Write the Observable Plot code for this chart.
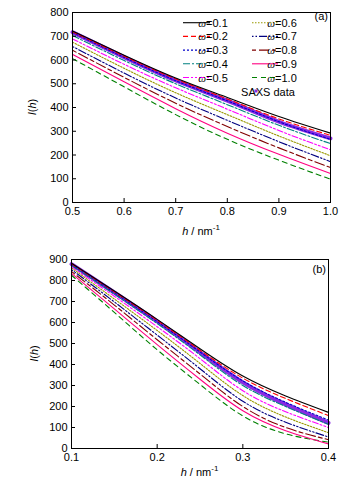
<!DOCTYPE html>
<html><head><meta charset="utf-8">
<script src="https://cdn.jsdelivr.net/npm/d3@7"></script>
<script src="https://cdn.jsdelivr.net/npm/@observablehq/plot@0.6"></script>
<style>
html,body{margin:0;padding:0;background:#fff}
#c{width:359px;height:483px;position:relative;font-family:"Liberation Sans",Arial,sans-serif}
#c svg{display:block}
</style></head><body><div id="c"></div>
<script>
// ---- series definitions ----
const seriesNames = ["ω=0.1","ω=0.2","ω=0.3","ω=0.4","ω=0.5","ω=0.6","ω=0.7","ω=0.8","ω=0.9","ω=1.0"];
const seriesColors = ["#000000","#ff0000","#0000cc","#008080","#ff00ff","#999900","#000080","#800000","#ff0080","#008000"];
const seriesDash = [null,"5,3","2,2","7,2,2,2","6,2,2,2,2,2","1.5,1.5","1.5,2,1.5,2,8,2","4,3,10,3",null,"5,4"];
const saxsColor = "#8a2be2";

// ---- panel (a) ----
const hA = [0.5, 0.6, 0.7, 0.8, 0.9, 1.0];
const a_w01 = [722, 620, 524, 442, 362, 292];
const a_w02 = [719, 616, 520, 436, 352, 283];
const a_w03 = [716, 611, 513, 428, 340, 266];
const a_w04 = [703, 598, 500, 412, 325, 248];
const a_w05 = [689, 582, 483, 393, 303, 222];
const a_w06 = [675, 565, 462, 370, 280, 197];
const a_w07 = [657, 545, 440, 346, 256, 172];
const a_w08 = [641, 527, 418, 320, 230, 147];
const a_w09 = [624, 508, 395, 292, 203, 122];
const a_w10 = [606, 487, 370, 266, 178, 98];
const a_saxs = [717, 612, 514, 429, 340, 270];
const xTicksA = [0.5, 0.6, 0.7, 0.8, 0.9, 1.0];
const yTicksA = [0, 100, 200, 300, 400, 500, 600, 700, 800];

// ---- panel (b) ----
const hB = [0.1, 0.15, 0.2, 0.25, 0.3, 0.35, 0.4];
const b_w01 = [882, 750, 615, 475, 345, 250, 172];
const b_w02 = [880, 746, 610, 468, 335, 238, 157];
const b_w03 = [877, 742, 604, 460, 322, 220, 135];
const b_w04 = [872, 735, 595, 446, 300, 200, 115];
const b_w05 = [866, 725, 580, 428, 275, 175, 100];
const b_w06 = [860, 712, 562, 405, 252, 150, 75];
const b_w07 = [852, 698, 540, 380, 225, 125, 55];
const b_w08 = [843, 683, 518, 355, 200, 100, 42];
const b_w09 = [834, 665, 495, 330, 180, 85, 22];
const b_w10 = [825, 648, 470, 305, 155, 70, 30];
const b_saxs = [878, 743, 605, 458, 315, 210, 122];
const xTicksB = [0.1, 0.2, 0.3, 0.4];
const yTicksB = [0, 100, 200, 300, 400, 500, 600, 700, 800, 900];

const FONT = "Liberation Sans, Arial, sans-serif";

function tidy(hs, arrs, saxs){
  const lines = [];
  arrs.forEach((arr, k) => arr.forEach((v, i) => lines.push({h: hs[i], I: v, s: k})));
  const sx = saxs.map((v, i) => ({h: hs[i], I: v}));
  return {lines, sx};
}

function panel({hs, arrs, saxs, xDomain, yDomain, xTicks, yTicks, width, height, mt, mr, mb, ml}){
  const {lines, sx} = tidy(hs, arrs, saxs);
  const innerW = width - ml - mr, innerH = height - mt - mb;
  const marks = [];
  marks.push(Plot.line(sx, {x: "h", y: "I", stroke: saxsColor, strokeWidth: 4, curve: "natural"}));
  for (let k = arrs.length - 1; k >= 0; k--) {
    marks.push(Plot.line(lines.filter(d => d.s === k), {
      x: "h", y: "I", stroke: seriesColors[k], strokeWidth: 1.1,
      strokeDasharray: seriesDash[k] || undefined, curve: "natural"
    }));
  }
  marks.push(Plot.tickX(xTicks, {x: d => d, insetTop: innerH - 4, stroke: "#000"}));
  marks.push(Plot.tickY(yTicks, {y: d => d, insetRight: innerW - 4, stroke: "#000"}));
  marks.push(Plot.axisX(xTicks, {tickSize: 0, tickPadding: 5, tickFormat: d3.format(".1f"), label: null, fontSize: 11}));
  marks.push(Plot.axisY(yTicks, {tickSize: 0, tickPadding: 4, label: null, fontSize: 11}));
  marks.push(Plot.frame({stroke: "#000", strokeWidth: 1}));
  return Plot.plot({
    width, height, marginTop: mt, marginRight: mr, marginBottom: mb, marginLeft: ml,
    x: {domain: xDomain}, y: {domain: yDomain},
    style: {fontFamily: FONT, fontSize: "11px", color: "#000", background: "#fff", overflow: "visible"},
    marks
  });
}

function addLabels(svg, {ml, mt, innerW, innerH, xlabY, ylabX, tag, tagX, tagY}){
  const s = d3.select(svg);
  // x label
  const xl = s.append("text").attr("x", ml + innerW/2).attr("y", xlabY)
    .attr("text-anchor", "middle").attr("font-family", FONT).attr("font-size", 11).attr("fill", "#000");
  xl.append("tspan").attr("font-style", "italic").text("h");
  xl.append("tspan").text(" / nm");
  xl.append("tspan").attr("font-size", 8).attr("dy", -5).text("-1");
  // y label
  const cy = mt + innerH/2;
  const yl = s.append("text").attr("transform", `translate(${ylabX},${cy}) rotate(-90)`)
    .attr("text-anchor", "middle").attr("font-family", FONT).attr("font-size", 11).attr("fill", "#000");
  yl.append("tspan").attr("font-style", "italic").text("I");
  yl.append("tspan").text("(");
  yl.append("tspan").attr("font-style", "italic").text("h");
  yl.append("tspan").text(")");
  // tag
  s.append("text").attr("x", tagX).attr("y", tagY).attr("text-anchor", "end")
    .attr("font-family", FONT).attr("font-size", 11).attr("fill", "#000").text(tag);
}

const root = document.getElementById("c");

// top panel
const A = {hs: hA, arrs: [a_w01,a_w02,a_w03,a_w04,a_w05,a_w06,a_w07,a_w08,a_w09,a_w10], saxs: a_saxs,
  xDomain: [0.5, 1.0], yDomain: [0, 800], xTicks: xTicksA, yTicks: yTicksA,
  width: 359, height: 245, mt: 12, mr: 29, mb: 43, ml: 72};
const svgA = panel(A);
root.appendChild(svgA);
addLabels(svgA, {ml: A.ml, mt: A.mt, innerW: 359-72-29, innerH: 245-12-43, xlabY: 235, ylabX: 36, tag: "(a)", tagX: 328, tagY: 20});

// legend for panel (a)
(function(){
  const s = d3.select(svgA).append("g");
  const rowY = [22.7, 36.4, 50.1, 63.8, 77.5];
  seriesNames.forEach((name, k) => {
    const col = k < 5 ? 0 : 1, row = k % 5;
    const x0 = col === 0 ? 183 : 252, x1 = col === 0 ? 210 : 278, tx = col === 0 ? 213 : 282;
    const y = rowY[row];
    s.append("line").attr("x1", x0).attr("x2", x1).attr("y1", y).attr("y2", y)
      .attr("stroke", seriesColors[k]).attr("stroke-width", 1.1)
      .attr("stroke-dasharray", seriesDash[k] || null);
    const t = s.append("text").attr("x", tx).attr("y", y + 4).attr("font-family", FONT)
      .attr("font-size", 11).attr("fill", "#000");
    t.append("tspan").attr("font-style", "italic").attr("font-family", "Liberation Serif, serif").text(name.slice(0,1));
    t.append("tspan").text(name.slice(1));
  });
  s.append("rect").attr("x", 254.5).attr("y", 89.5).attr("width", 3).attr("height", 3).attr("fill", saxsColor);
  s.append("text").attr("x", 268).attr("y", 95.5).attr("font-family", FONT).attr("font-size", 11).attr("fill", "#000").text("SAXS data");
})();

// bottom panel
const B = {hs: hB, arrs: [b_w01,b_w02,b_w03,b_w04,b_w05,b_w06,b_w07,b_w08,b_w09,b_w10], saxs: b_saxs,
  xDomain: [0.1, 0.4], yDomain: [0, 900], xTicks: xTicksB, yTicks: yTicksB,
  width: 359, height: 238, mt: 14, mr: 31, mb: 35, ml: 71};
const svgB = panel(B);
root.appendChild(svgB);
addLabels(svgB, {ml: B.ml, mt: B.mt, innerW: 359-71-31, innerH: 238-14-35, xlabY: 231, ylabX: 38, tag: "(b)", tagX: 326, tagY: 28});
</script>
</body></html>
